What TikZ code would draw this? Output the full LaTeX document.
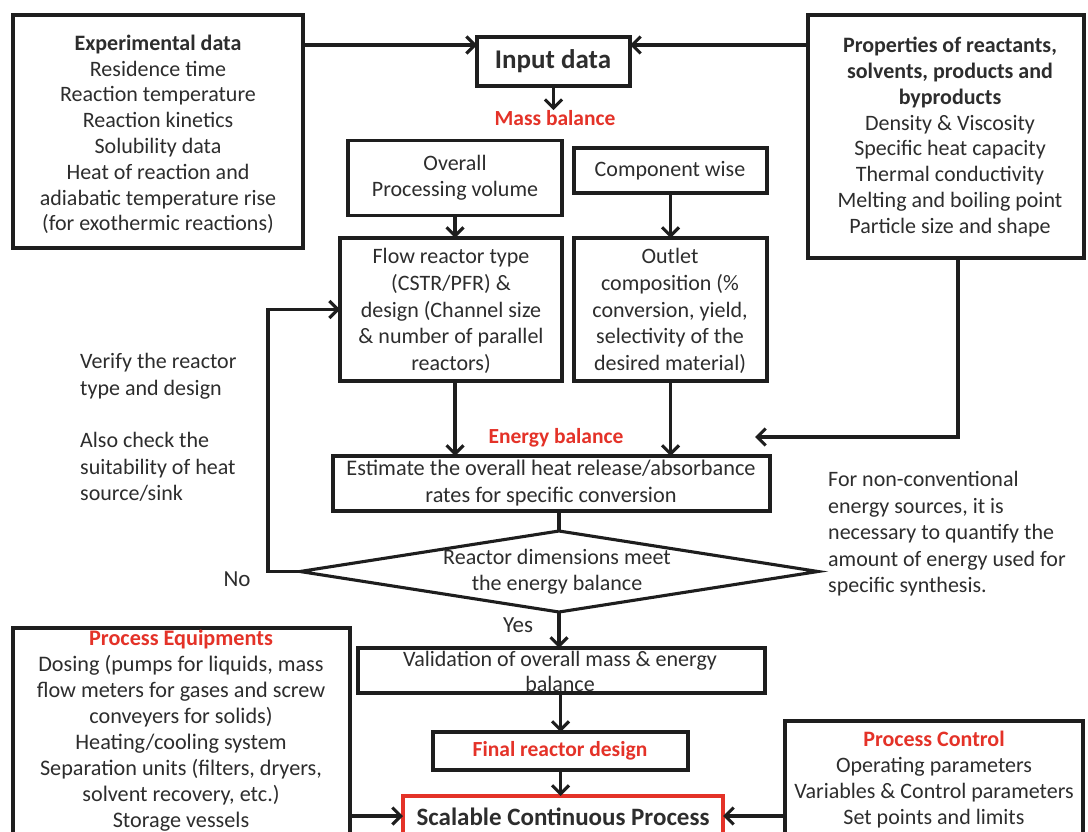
\documentclass[tikz,border=0pt]{standalone}
\usepackage{fontspec}
\setmainfont{Carlito}
\usetikzlibrary{arrows.meta,shapes.geometric,calc}
\definecolor{ink}{RGB}{30,30,30}
\definecolor{txtc}{RGB}{45,45,45}
\definecolor{hred}{RGB}{228,50,40}
\begin{document}
\begin{tikzpicture}[x=1pt,y=-1pt,
  box/.style={draw=ink, line width=3.1pt, inner sep=0pt, outer sep=0pt},
  arr/.style={draw=ink, line width=3.1pt, -{Straight Barb[length=8.5pt,width=17pt]}},
  ln/.style={draw=ink, line width=3.1pt},
  txt/.style={align=center, inner sep=0pt, text=txtc, font=\fontsize{22}{25.8}\selectfont},
  ltxt/.style={align=left, inner sep=0pt, text=txtc, font=\fontsize{22}{26.5}\selectfont},
  rlab/.style={inner sep=0pt, text=hred, font=\fontsize{21.5}{24}\selectfont\bfseries}
]
\useasboundingbox (0,0) rectangle (1088,832);
\fill[white] (0,0) rectangle (1088,832);
\clip (0,0) rectangle (1088,832);

% boxes
\node[box, minimum width=290pt, minimum height=233pt] (exp) at (158,131.5) {};
\node[box, minimum width=153pt, minimum height=49pt] (input) at (553.5,61.5) {};
\node[box, minimum width=276pt, minimum height=243pt] (prop) at (946,136.5) {};
\node[box, minimum width=214pt, minimum height=75pt] (overall) at (455,178) {};
\node[box, minimum width=193pt, minimum height=45pt] (comp) at (670.5,170.5) {};
\node[box, minimum width=222pt, minimum height=143pt] (flow) at (451,309.5) {};
\node[box, minimum width=193pt, minimum height=143pt] (outlet) at (670.5,309.5) {};
\node[box, minimum width=437pt, minimum height=55pt] (est) at (551.5,483.5) {};
\node[box, diamond, minimum width=518pt, minimum height=81pt] (dia) at (559,571.5) {};
\node[box, minimum width=407pt, minimum height=45pt] (val) at (561.5,670.5) {};
\node[box, line width=4pt, minimum width=255pt, minimum height=38pt] (final) at (560.5,751) {};
\node[box, draw=hred, minimum width=320pt, minimum height=56pt] (scal) at (563,824) {};
\node[box, minimum width=337pt, minimum height=222pt] (equip) at (181.5,739) {};
\node[box, minimum width=298pt, minimum height=129pt] (ctrl) at (934,785.5) {};

% texts
\node[txt] (texp) at (158,134.5) {\textbf{Experimental data}\\Residence time\\Reaction temperature\\Reaction kinetics\\Solubility data\\Heat of reaction and\\adiabatic temperature rise\\(for exothermic reactions)};
\node[txt, font=\fontsize{27}{30}\selectfont\bfseries] (tinput) at (553,61) {Input data};
\node[txt] (tprop) at (950,137) {\textbf{Properties of reactants,}\\\textbf{solvents, products and}\\\textbf{byproducts}\\Density \& Viscosity\\Specific heat capacity\\Thermal conductivity\\Melting and boiling point\\Particle size and shape};
\node[rlab] (mb) at (555,118) {Mass balance};
\node[txt] (tover) at (455,178) {Overall\\Processing volume};
\node[txt] (tcomp) at (670,171) {Component wise};
\node[txt, font=\fontsize{22}{26.8}\selectfont] (tflow) at (451,311) {Flow reactor type\\(CSTR/PFR) \&\\design (Channel size\\\& number of parallel\\reactors)};
\node[txt, font=\fontsize{22}{26.8}\selectfont] (tout) at (670,311) {Outlet\\composition (\%\\conversion, yield,\\selectivity of the\\desired material)};
\node[rlab] (eb) at (556,438) {Energy balance};
\node[txt, font=\fontsize{22.3}{27}\selectfont] (test) at (551,483.5) {Estimate the overall heat release/absorbance\\rates for specific conversion};
\node[txt] (tdia) at (557,572) {Reactor dimensions meet\\the energy balance};
\node[txt, font=\fontsize{23}{26}\selectfont] (tno) at (237,579) {No};
\node[txt, font=\fontsize{23}{26}\selectfont] (tyes) at (518,625) {Yes};
\node[ltxt, anchor=west] (tver) at (80,376.5) {Verify the reactor\\type and design};
\node[ltxt, anchor=west] (tchk) at (80,467) {Also check the\\suitability of heat\\source/sink};
\node[ltxt, anchor=west] (tnc) at (828,534) {For non-conventional\\energy sources, it is\\necessary to quantify the\\amount of energy used for\\specific synthesis.};
\node[txt] (tval) at (560,671.5) {Validation of overall mass \& energy\\balance};
\node[rlab] (tfin) at (560,750.5) {Final reactor design};
\node[txt, font=\fontsize{25}{30}\selectfont\bfseries] (tscal) at (563,817) {Scalable Continuous Process};
\node[txt, font=\fontsize{22.2}{26}\selectfont] (tequip) at (181,731) {\textcolor{hred}{\textbf{Process Equipments}}\\Dosing (pumps for liquids, mass\\flow meters for gases and screw\\conveyers for solids)\\Heating/cooling system\\Separation units (filters, dryers,\\solvent recovery, etc.)\\Storage vessels};
\node[txt, font=\fontsize{22}{25.8}\selectfont] (tctrl) at (934,779.5) {\textcolor{hred}{\textbf{Process Control}}\\Operating parameters\\Variables \& Control parameters\\Set points and limits};

% connectors
\coordinate (yA) at (0,45);
\coordinate (yS) at (0,816);
\coordinate (pe) at (755,437);
\draw[arr] (exp.east |- yA) -- (input.west |- yA);
\draw[arr] (prop.west |- yA) -- (input.east |- yA);
\draw[arr] (input.south) -- (input.south |- mb.north);
\draw[arr] (overall.south) -- (overall.south |- flow.north);
\draw[arr] (comp.south) -- (comp.south |- outlet.north);
\draw[arr] ([xshift=4pt]flow.south) -- ([xshift=4pt]flow.south |- est.north);
\draw[arr] (outlet.south) -- (outlet.south |- est.north);
\draw[arr] ([xshift=12pt]prop.south) |- (pe);
\draw[ln] (dia.north |- est.south) -- (dia.north);
\draw[arr] (dia.west) -- ++(-32,0) |- (flow.west);
\draw[arr] (dia.south) -- (dia.south |- val.north);
\draw[arr] (val.south) -- (val.south -| final.north) -- (final.north);
\draw[arr] (final.south) -- (final.south |- scal.north);
\draw[arr] (equip.east |- yS) -- (scal.west |- yS);
\draw[arr] (ctrl.west |- yS) -- (scal.east |- yS);
\end{tikzpicture}
\end{document}
